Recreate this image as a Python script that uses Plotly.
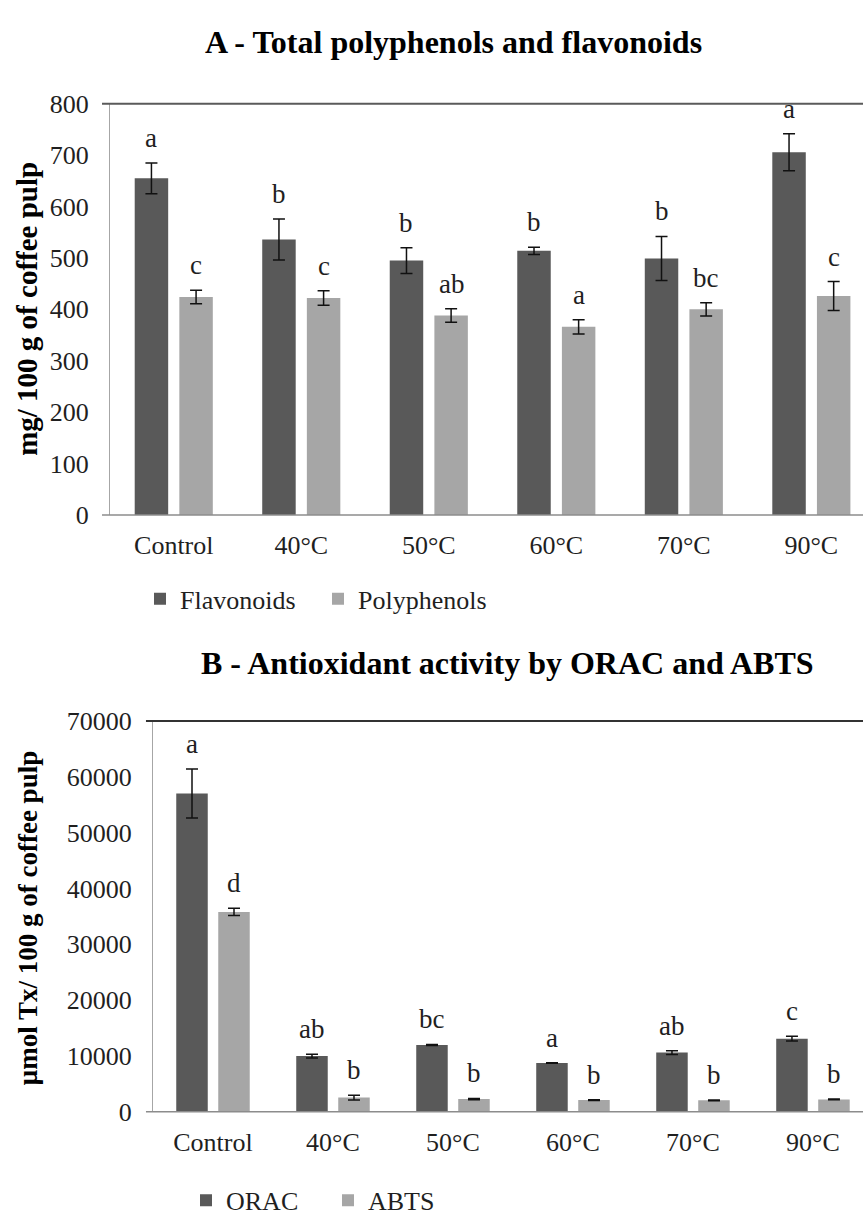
import plotly.graph_objects as go

W, H = 863, 1228
FONT = "Liberation Serif"
DARK = "#595959"
LIGHT = "#a6a6a6"
TXT = "#1f1f1f"

categories = ["Control", "40°C", "50°C", "60°C", "70°C", "90°C"]

# Chart A - mg / 100 g of coffee pulp
flavonoids = [655, 536, 495, 514, 499, 706]
flavonoids_err = [30, 40, 25, 7, 43, 36]
flavonoids_letters = ["a", "b", "b", "b", "b", "a"]
polyphenols = [424, 422, 388, 366, 400, 426]
polyphenols_err = [13, 14, 13, 14, 13, 28]
polyphenols_letters = ["c", "c", "ab", "a", "bc", "c"]

# Chart B - µmol Tx / 100 g of coffee pulp
orac = [57000, 9980, 11960, 8760, 10620, 13100]
orac_err = [4400, 350, 100, 50, 330, 420]
orac_letters = ["a", "ab", "bc", "a", "ab", "c"]
abts = [35800, 2550, 2290, 2110, 2060, 2220]
abts_err = [650, 420, 120, 70, 70, 70]
abts_letters = ["d", "b", "b", "b", "b", "b"]

A_yticks = list(range(0, 801, 100))
B_yticks = list(range(0, 70001, 10000))


def py(pix):
    return 1 - pix / H


def px(pix):
    return pix / W


fig = go.Figure()


def add_bar(name, vals, errs, color, xa, ya, legend):
    fig.add_trace(go.Bar(
        x=categories, y=vals, name=name,
        marker=dict(color=color, line=dict(width=0)),
        error_y=dict(type="data", array=errs, visible=True, color="#111111",
                     thickness=1.5, width=6),
        xaxis=xa, yaxis=ya, legend=legend,
    ))


add_bar("Flavonoids", flavonoids, flavonoids_err, DARK, "x", "y", "legend")
add_bar("Polyphenols", polyphenols, polyphenols_err, LIGHT, "x", "y", "legend")
add_bar("ORAC", orac, orac_err, DARK, "x2", "y2", "legend2")
add_bar("ABTS", abts, abts_err, LIGHT, "x2", "y2", "legend2")

OFF = 0.175
annotations = []


def add_letters(vals, errs, letters, off, xref, yref):
    for i, (v, e, t) in enumerate(zip(vals, errs, letters)):
        annotations.append(dict(
            x=i + off, y=v + e, xref=xref, yref=yref, text=t, showarrow=False,
            yanchor="bottom", xanchor="center", yshift=8,
            font=dict(family=FONT, size=27, color=TXT)))


add_letters(flavonoids, flavonoids_err, flavonoids_letters, -OFF, "x", "y")
add_letters(polyphenols, polyphenols_err, polyphenols_letters, OFF, "x", "y")
add_letters(orac, orac_err, orac_letters, -OFF, "x2", "y2")
add_letters(abts, abts_err, abts_letters, OFF, "x2", "y2")

# titles
annotations.append(dict(x=px(453), y=py(29), xref="paper", yref="paper",
                        text="<b>A - Total polyphenols and flavonoids</b>",
                        showarrow=False, xanchor="center", yanchor="middle",
                        font=dict(family=FONT, size=32, color="#000")))
annotations.append(dict(x=px(507), y=py(665), xref="paper", yref="paper",
                        text="<b>B - Antioxidant activity by ORAC and ABTS</b>",
                        showarrow=False, xanchor="center", yanchor="middle",
                        font=dict(family=FONT, size=32, color="#000")))
# y-axis titles
annotations.append(dict(x=px(27), y=py(302), xref="paper", yref="paper",
                        text="<b>mg/ 100 g of coffee pulp</b>", textangle=-90,
                        showarrow=False, xanchor="center", yanchor="middle",
                        font=dict(family=FONT, size=29, color="#000")))
annotations.append(dict(x=px(28), y=py(926), xref="paper", yref="paper",
                        text="<b>μmol Tx/ 100 g of coffee pulp</b>", textangle=-90,
                        showarrow=False, xanchor="center", yanchor="middle",
                        font=dict(family=FONT, size=27, color="#000")))

# plot frames: top border and bottom axis extending slightly left of y axis
shapes = []
for xr, yr, ext, topcol in (("x domain", "y domain", 0.0106, "#5a5a5a"),
                            ("x2 domain", "y2 domain", 0.0099, "#333333")):
    shapes.append(dict(type="line", xref=xr, yref=yr, x0=-ext, x1=1, y0=1, y1=1,
                       line=dict(color=topcol, width=2)))
    shapes.append(dict(type="line", xref=xr, yref=yr, x0=-ext, x1=1, y0=0, y1=0,
                       line=dict(color="#8c8c8c", width=1.5)))

axis_font = dict(family=FONT, size=26, color=TXT)
common_x = dict(type="category", showgrid=False, zeroline=False, showline=False,
                ticks="", tickfont=axis_font, ticklabelstandoff=12, fixedrange=True)
common_y = dict(showgrid=False, zeroline=False, showline=True, linecolor="#a6a6a6",
                linewidth=1, ticks="", tickfont=axis_font, ticklabelstandoff=15,
                tickformat="d")

fig.update_layout(
    width=W, height=H,
    margin=dict(l=0, r=0, t=0, b=0),
    paper_bgcolor="white", plot_bgcolor="white",
    barmode="group", bargap=0.3, bargroupgap=0.25,
    xaxis=dict(common_x, domain=[px(110), 1], range=[-0.5, 5.405], anchor="y"),
    yaxis=dict(common_y, domain=[py(513), py(92)], range=[0, 800],
               tickvals=A_yticks, anchor="x"),
    xaxis2=dict(common_x, domain=[px(153), 1], range=[-0.5, 5.417], anchor="y2"),
    yaxis2=dict(common_y, domain=[py(1124.4), py(724)], range=[0, 70000],
                tickvals=B_yticks, anchor="x2"),
    legend=dict(orientation="h", x=px(140), y=py(599), xanchor="left",
                yanchor="middle", font=dict(family=FONT, size=26, color=TXT),
                bgcolor="rgba(0,0,0,0)", itemwidth=30, traceorder="normal",
                entrywidth=133, entrywidthmode="pixels"),
    legend2=dict(orientation="h", x=px(186), y=py(1215), xanchor="left",
                 yanchor="middle", font=dict(family=FONT, size=26, color=TXT),
                 bgcolor="rgba(0,0,0,0)", itemwidth=30, traceorder="normal",
                 entrywidth=97, entrywidthmode="pixels"),
    annotations=annotations,
    shapes=shapes,
    showlegend=True,
)

fig.write_html("out.html", config={"displayModeBar": False},
               post_script="document.body.style.margin='0';")
